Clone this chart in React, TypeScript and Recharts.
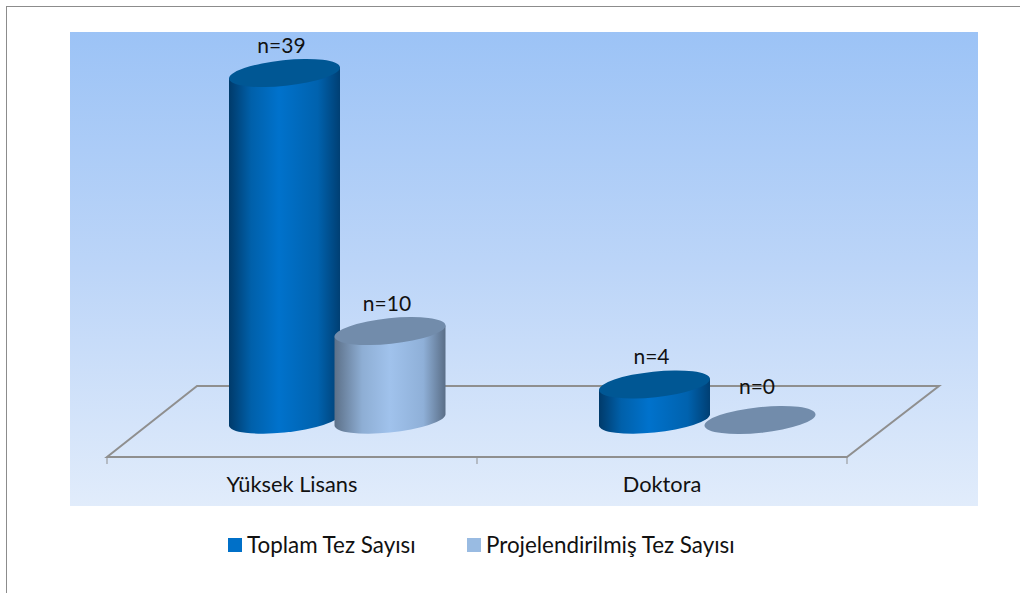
import React from "react";
import { BarChart, Bar, XAxis, YAxis, Legend, LabelList, usePlotArea } from "recharts";

const categories = ["Yüksek Lisans", "Doktora"];
const toplamTez = [39, 4];
const projeliTez = [10, 0];
const seriesNames = ["Toplam Tez Sayısı", "Projelendirilmiş Tez Sayısı"];

const data = categories.map((name, i) => ({
  name,
  toplam: toplamTez[i],
  projeli: projeliTez[i],
}));

const FONT = "Lato, sans-serif";
const DEPTH_X = 45; // bars stand in the middle of the floor, not on its front edge
const DEPTH_Y = 90;
const TILT = -6;

const looks: Record<string, { cap: string; grad: string }> = {
  toplam: { cap: "#005794", grad: "gradToplam" },
  projeli: { cap: "#728CAB", grad: "gradProjeli" },
};

function Cylinder(props: any) {
  const { x, y, width, height, dataKey } = props;
  const look = looks[dataKey];
  const cx = x + width / 2 + DEPTH_X;
  const rx = width / 2;
  const a = rx + 0.3;
  const b = 12.8;
  const side = 5.5;
  const top = y;
  const bottom = y + height;
  const body = `M${cx - rx} ${top + side} L${cx - rx} ${bottom + side} A${a} ${b} ${TILT} 0 0 ${cx + rx} ${bottom - side} L${cx + rx} ${top - side} Z`;
  return (
    <g>
      {height > 0 && <path d={body} fill={`url(#${look.grad})`} />}
      <ellipse cx={cx} cy={top} rx={a} ry={b} fill={look.cap} transform={`rotate(${TILT} ${cx} ${top})`} />
    </g>
  );
}

function BarLabel(props: any) {
  const { x, y, width, value } = props;
  return (
    <text
      x={x + width / 2 + DEPTH_X - 3}
      y={y - (value === 0 ? 26 : 20)}
      textAnchor="middle"
      fontFamily={FONT}
      fontSize={21}
      fill="#111"
    >
      {`n=${value}`}
    </text>
  );
}

function Floor() {
  const plot = usePlotArea();
  if (!plot) return null;
  const left = plot.x;
  const right = plot.x + plot.width;
  const front = plot.y + plot.height;
  const back = front - 71;
  return (
    <g>
      <path
        d={`M${left} ${front} L${left + DEPTH_Y} ${back} L${right + 92} ${back} L${right} ${front} Z`}
        fill="none"
        stroke="#8f8f8f"
        strokeWidth={2}
      />
      {[left, (left + right) / 2, right].map((t) => (
        <line key={t} x1={t} x2={t} y1={front} y2={front + 7} stroke="#8f8f8f" strokeWidth={1} />
      ))}
    </g>
  );
}

function LegendRow({ payload }: any) {
  return (
    <div style={{ display: "flex", fontFamily: FONT, fontSize: 22.4, color: "#111" }}>
      {(payload || []).map((item: any, i: number) => (
        <div key={item.value} style={{ display: "flex", alignItems: "center", position: "absolute", left: i ? 239 : 0 }}>
          <span style={{ width: 14, height: 14, background: item.color, marginRight: 5 }} />
          <span>{item.value}</span>
        </div>
      ))}
    </div>
  );
}

export default function App() {
  return (
    <div style={{ position: "fixed", left: 0, top: 0, width: 1020, height: 593, overflow: "hidden", background: "#fff" }}>
      <div style={{ position: "absolute", left: 6, top: 6, width: 1100, height: 700, borderLeft: "1px solid #8c8c8c", borderTop: "1px solid #8c8c8c" }} />
      <div style={{ position: "absolute", left: 70, top: 32, width: 908, height: 474, background: "linear-gradient(180deg, #9CC3F6 0%, #BCD5F8 50%, #E1ECFB 100%)" }} />
      <div style={{ position: "absolute", left: 0, top: 0 }}>
        <BarChart
          width={1020}
          height={593}
          data={data}
          barSize={111}
          barGap={-5.5}
          barCategoryGap={0}
          margin={{ top: 73, right: 173, bottom: 96, left: 107 }}
        >
          <defs>
            <linearGradient id="gradToplam" x1="0" y1="0" x2="1" y2="0">
              <stop offset="0" stopColor="#003A6A" />
              <stop offset="0.2" stopColor="#0060AA" />
              <stop offset="0.45" stopColor="#0072CC" />
              <stop offset="0.8" stopColor="#0062AE" />
              <stop offset="1" stopColor="#003F73" />
            </linearGradient>
            <linearGradient id="gradProjeli" x1="0" y1="0" x2="1" y2="0">
              <stop offset="0" stopColor="#5C7088" />
              <stop offset="0.25" stopColor="#8EAED4" />
              <stop offset="0.5" stopColor="#A0C2EC" />
              <stop offset="0.8" stopColor="#8FB0D8" />
              <stop offset="1" stopColor="#5A6E87" />
            </linearGradient>
          </defs>
          <Floor />
          <XAxis
            dataKey="name"
            height={40}
            axisLine={false}
            tickLine={false}
            interval={0}
            tick={{ fontFamily: FONT, fontSize: 21.8, fill: "#111" }}
            tickMargin={14}
          />
          <YAxis hide domain={[-4.16, 39]} />
          <Legend
            content={<LegendRow />}
            itemSorter={(item: any) => seriesNames.indexOf(item.value)}
            height={0}
            wrapperStyle={{ left: 228, top: 531, width: 600, bottom: "auto" }}
          />
          <Bar dataKey="toplam" name={seriesNames[0]} fill="#0070C8" shape={<Cylinder />} isAnimationActive={false}>
            <LabelList dataKey="toplam" content={<BarLabel />} />
          </Bar>
          <Bar dataKey="projeli" name={seriesNames[1]} fill="#99BBE2" shape={<Cylinder />} isAnimationActive={false}>
            <LabelList dataKey="projeli" content={<BarLabel />} />
          </Bar>
        </BarChart>
      </div>
    </div>
  );
}
